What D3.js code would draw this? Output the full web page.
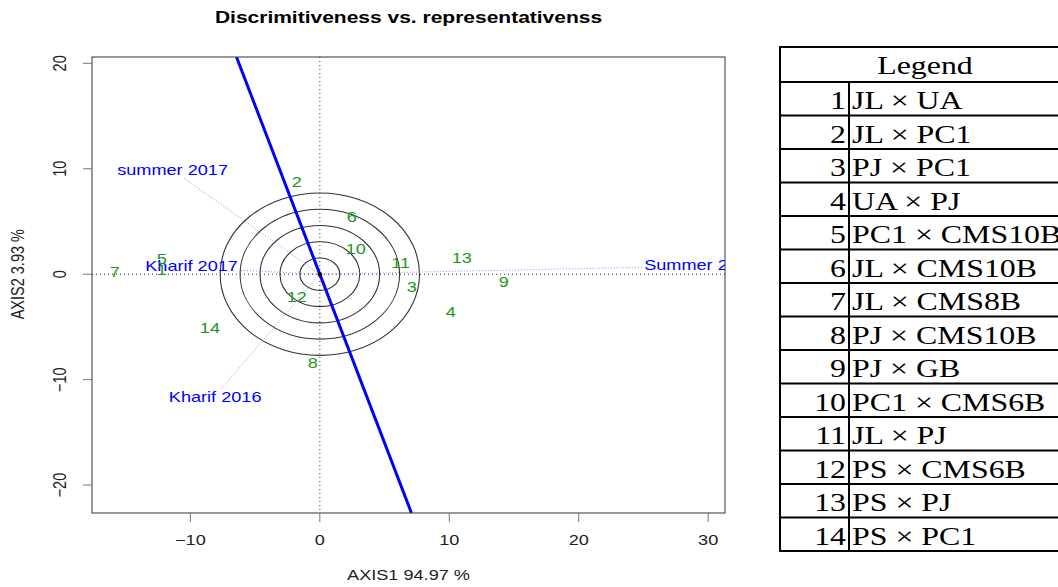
<!DOCTYPE html>
<html>
<head>
<meta charset="utf-8">
<script src="https://cdn.jsdelivr.net/npm/d3@7"></script>
<style>
  body { margin: 0; background: #fff; }
  svg { display: block; }
</style>
</head>
<body>
<script>
// genotype scores
const genoIds = [1, 2, 3, 4, 5, 6, 7, 8, 9, 10, 11, 12, 13, 14];
const genoX = [-12.2, -1.78, 7.10, 10.11, -12.2, 2.47, -15.83, -0.54, 14.21, 2.78, 6.25, -1.78, 10.97, -8.49];
const genoY = [0.38, 8.72, -1.23, -3.60, 1.42, 5.40, 0.19, -8.44, -0.76, 2.37, 1.04, -2.18, 1.52, -5.12];

// environment vectors
const envNames = ['Summer 2017', 'summer 2017', 'Kharif 2017', 'Kharif 2016'];
const envX = [24.9, -10.6, -6.25, -7.7];
const envY = [0.66, 9.2, 0.38, -11.0];

// concentric rings and the blue line through the origin (y = slope * x)
const ringRadii = [1.54, 3.08, 4.62, 6.16, 7.70];
const lineSlope = -3.2;

const xTicks = [-10, 0, 10, 20, 30];
const yTicks = [-20, -10, 0, 10, 20];

const legendNames = ['JL \u00d7 UA', 'JL \u00d7 PC1', 'PJ \u00d7 PC1', 'UA \u00d7 PJ', 'PC1 \u00d7 CMS10B',
  'JL \u00d7 CMS10B', 'JL \u00d7 CMS8B', 'PJ \u00d7 CMS10B', 'PJ \u00d7 GB', 'PC1 \u00d7 CMS6B',
  'JL \u00d7 PJ', 'PS \u00d7 CMS6B', 'PS \u00d7 PJ', 'PS \u00d7 PC1'];

let W = 1058, H = 587;
let plot = { left: 92, right: 725, top: 57, bottom: 513 };
let S = 1.25; // the whole picture is stretched sideways
let sans = 'Liberation Sans, Arial, sans-serif';
let serif = 'Liberation Serif, Times New Roman, serif';

let svg = d3.select('body').append('svg')
    .attr('width', W)
    .attr('height', H);

let x = d3.scaleLinear().domain([-17.6, 31.3]).range([plot.left, plot.right]);
let y = d3.scaleLinear().domain([-22.65, 20.6]).range([plot.bottom, plot.top]);

// text helper: stretched horizontally like the original
function stext(parent, px, py, str, o) {
  o = o || {};
  let g = parent.append('g')
      .attr('transform', 'translate(' + px + ',' + py + ') scale(' + S + ',1)' + (o.rotate ? ' rotate(' + o.rotate + ')' : ''));
  return g.append('text')
      .attr('text-anchor', o.anchor || 'middle')
      .attr('font-family', o.family || sans)
      .attr('font-size', o.size || 14.5)
      .attr('font-weight', o.weight || 'normal')
      .attr('fill', o.fill || '#000')
      .text(str);
}

// title
stext(svg, (plot.left + plot.right) / 2, 23, 'Discrimitiveness vs. representativenss', { size: 16.8, weight: 'bold' });

// clip for the plot region
svg.append('clipPath').attr('id', 'clip')
  .append('rect')
    .attr('x', plot.left).attr('y', plot.top)
    .attr('width', plot.right - plot.left).attr('height', plot.bottom - plot.top);

let inner = svg.append('g').attr('clip-path', 'url(#clip)');

// dotted zero lines
inner.append('line')
    .attr('x1', x(0)).attr('x2', x(0)).attr('y1', plot.top).attr('y2', plot.bottom)
    .attr('stroke', '#333').attr('stroke-width', 1).attr('stroke-dasharray', '1,3');
inner.append('line')
    .attr('x1', plot.left).attr('x2', plot.right).attr('y1', y(0)).attr('y2', y(0))
    .attr('stroke', '#333').attr('stroke-width', 1).attr('stroke-dasharray', '1,3');

// rings
inner.selectAll('.ring').data(ringRadii).enter().append('ellipse')
    .attr('class', 'ring')
    .attr('cx', x(0)).attr('cy', y(0))
    .attr('rx', function(r) { return x(r) - x(0); })
    .attr('ry', function(r) { return y(0) - y(r); })
    .attr('fill', 'none').attr('stroke', '#333').attr('stroke-width', 1.1);

// environment vectors
let env = envNames.map(function(n, i) { return { name: n, x: envX[i], y: envY[i] }; });

inner.selectAll('.envline').data(env).enter().append('line')
    .attr('x1', x(0)).attr('y1', y(0))
    .attr('x2', function(d) { return x(d.x); })
    .attr('y2', function(d) { return y(d.y); })
    .attr('stroke', '#8c8cff').attr('stroke-width', 1).attr('stroke-dasharray', '1,2');

// blue line
let yTop = y.domain()[1], yBot = y.domain()[0];
inner.append('line')
    .attr('x1', x(yTop / lineSlope)).attr('y1', y(yTop))
    .attr('x2', x(yBot / lineSlope)).attr('y2', y(yBot))
    .attr('stroke', '#0000ff').attr('stroke-width', 3);

inner.append('circle')
    .attr('cx', x(0)).attr('cy', y(0)).attr('r', 2.2).attr('fill', '#000');

// environment labels, placed off the end of each vector
env.forEach(function(d) {
  let px = x(d.x), py = y(d.y);
  let dx = px - x(0), dy = py - y(0);
  let c = dx / Math.sqrt(dx * dx + dy * dy);
  if (c > 0.9) {
    stext(inner, px + 2, py + 3, d.name, { anchor: 'start', fill: '#0000ff' });
  } else if (c < -0.9) {
    stext(inner, px - 1, py + 1, d.name, { anchor: 'end', fill: '#0000ff' });
  } else if (dy < 0) {
    stext(inner, px - 10, py - 2, d.name, { fill: '#0000ff' });
  } else {
    stext(inner, px - 5, py + 12, d.name, { fill: '#0000ff' });
  }
});

// genotype labels
genoIds.forEach(function(id, i) {
  stext(inner, x(genoX[i]), y(genoY[i]) + 5, String(id), { fill: '#1f951f' });
});

// box
svg.append('rect')
    .attr('x', plot.left).attr('y', plot.top)
    .attr('width', plot.right - plot.left).attr('height', plot.bottom - plot.top)
    .attr('fill', 'none').attr('stroke', '#333').attr('stroke-width', 1);

// x axis
let fmt = d3.format('d');
xTicks.forEach(function(t) {
  svg.append('line')
      .attr('x1', x(t)).attr('x2', x(t)).attr('y1', plot.bottom).attr('y2', plot.bottom + 9)
      .attr('stroke', '#777').attr('stroke-width', 1);
  stext(svg, x(t), 545, fmt(t), { fill: '#222' });
});
stext(svg, (plot.left + plot.right) / 2, 580, 'AXIS1 94.97 %', { fill: '#222' });

// y axis
yTicks.forEach(function(t) {
  svg.append('line')
      .attr('x1', plot.left - 9).attr('x2', plot.left).attr('y1', y(t)).attr('y2', y(t))
      .attr('stroke', '#777').attr('stroke-width', 1);
  stext(svg, 66, y(t), fmt(t), { fill: '#222', rotate: -90 });
});
stext(svg, 24, y(0), 'AXIS2 3.93 %', { fill: '#222', rotate: -90 });

// legend table
let tab = { left: 780, right: 1070, top: 47, head: 82, row: 33.5, divider: 849 };
let tg = svg.append('g');
let tBottom = tab.head + tab.row * legendNames.length;

tg.append('rect')
    .attr('x', tab.left).attr('y', tab.top)
    .attr('width', tab.right - tab.left).attr('height', tBottom - tab.top)
    .attr('fill', 'none').attr('stroke', '#000').attr('stroke-width', 2);
tg.append('line')
    .attr('x1', tab.divider).attr('x2', tab.divider).attr('y1', tab.head).attr('y2', tBottom)
    .attr('stroke', '#000').attr('stroke-width', 2);
legendNames.forEach(function(n, i) {
  let top = tab.head + tab.row * i;
  tg.append('line')
      .attr('x1', tab.left).attr('x2', tab.right).attr('y1', top).attr('y2', top)
      .attr('stroke', '#000').attr('stroke-width', 2);
  stext(tg, tab.divider - 3, top + 27, String(i + 1), { anchor: 'end', family: serif, size: 25.5 });
  stext(tg, tab.divider + 3, top + 27, n, { anchor: 'start', family: serif, size: 25.5 });
});
stext(tg, (tab.left + tab.right) / 2, tab.top + 27, 'Legend', { family: serif, size: 25.5 });
</script>
</body>
</html>
